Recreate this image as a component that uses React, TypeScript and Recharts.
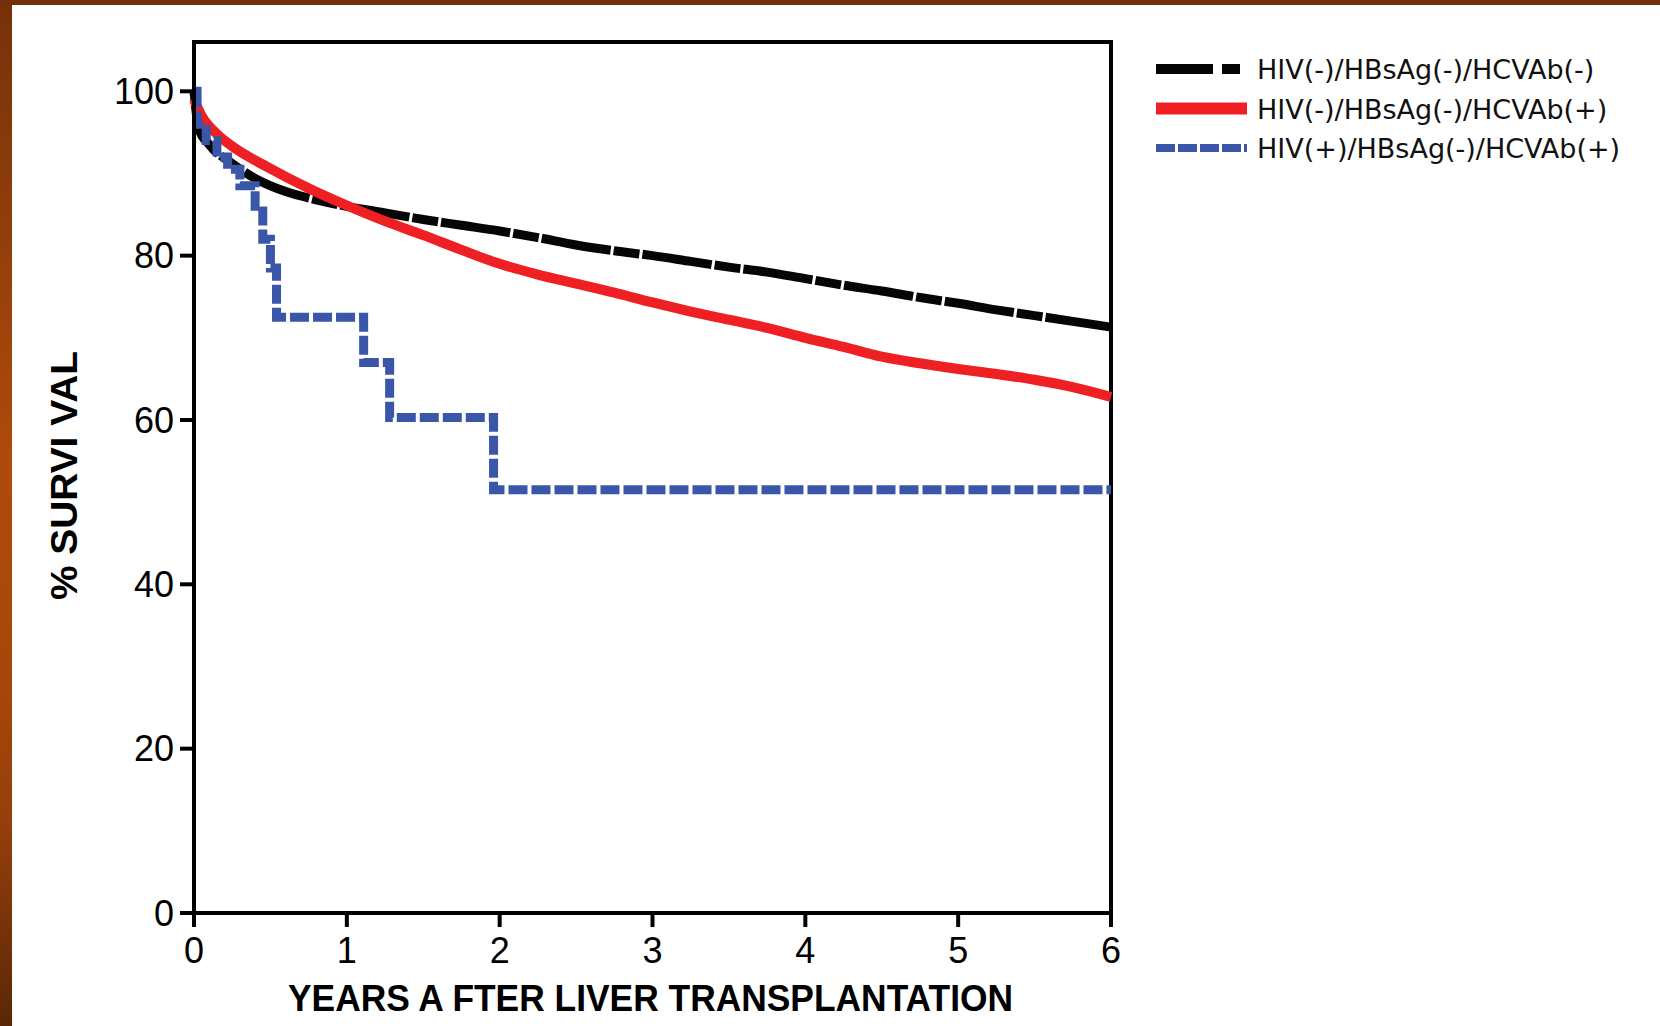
import { LineChart, Line, XAxis, YAxis, Legend, ReferenceArea } from "recharts";

// survival (%), x in years after transplant
const negYears = [0, 0.03, 0.1, 0.25, 0.4, 0.6, 0.8, 1, 1.25, 1.5, 1.75, 2, 2.25, 2.5, 2.75, 3, 3.25, 3.5, 3.75, 4, 4.25, 4.5, 4.75, 5, 5.25, 5.5, 5.75, 6];
const negSurvival = [100, 95.5, 93.5, 91.2, 89.4, 87.8, 86.8, 86.0, 85.2, 84.4, 83.7, 83.0, 82.2, 81.3, 80.6, 80.0, 79.3, 78.6, 78.0, 77.2, 76.4, 75.7, 74.9, 74.2, 73.4, 72.7, 72.0, 71.3];

const hcvYears = [0, 0.05, 0.15, 0.25, 0.5, 0.75, 1, 1.25, 1.5, 1.75, 2, 2.25, 2.5, 2.75, 3, 3.25, 3.5, 3.75, 4, 4.25, 4.5, 4.75, 5, 5.25, 5.5, 5.75, 6];
const hcvSurvival = [99, 97, 94.8, 93.3, 90.6, 88.2, 86.1, 84.2, 82.5, 80.7, 79.0, 77.7, 76.6, 75.5, 74.3, 73.2, 72.2, 71.2, 70.0, 68.9, 67.7, 66.9, 66.2, 65.6, 64.9, 64.0, 62.8];

// HIV+ group is a step (Kaplan-Meier) curve
const hivYears = [0, 0.02, 0.08, 0.15, 0.22, 0.3, 0.4, 0.45, 0.5, 0.54, 1.11, 1.28, 1.96, 6];
const hivSurvival = [100, 96, 94, 92, 90.5, 88.5, 86, 82, 78.5, 72.5, 67, 60.3, 51.5, 51.5];

const seriesNames = ["HIV(-)/HBsAg(-)/HCVAb(-)", "HIV(-)/HBsAg(-)/HCVAb(+)", "HIV(+)/HBsAg(-)/HCVAb(+)"];
const xTicks = [0, 1, 2, 3, 4, 5, 6];
const yTicks = [0, 20, 40, 60, 80, 100];

const toRows = (xs: number[], ys: number[]) => xs.map((x, i) => ({ x, y: ys[i] }));
const negData = toRows(negYears, negSurvival);
const hcvData = toRows(hcvYears, hcvSurvival);
const hivData = toRows(hivYears, hivSurvival);

const BLACK = "#050505";
const RED = "#ee2024";
const BLUE = "#3a56a8";

const legendStyles = [
  { color: BLACK, width: 10, dash: "57 9 18 40", len: 84 },
  { color: RED, width: 12, dash: undefined, len: 91 },
  { color: BLUE, width: 8, dash: "19 3", len: 91 },
];

function renderLegend() {
  return (
    <svg width={520} height={130}>
      {seriesNames.map((name, i) => {
        const cy = 24 + i * 39.5;
        const st = legendStyles[i];
        return (
          <g key={name}>
            <line x1={6} x2={6 + st.len} y1={cy} y2={cy} stroke={st.color} strokeWidth={st.width} strokeDasharray={st.dash} />
            <text x={107} y={cy + 10} fontFamily="DejaVu Sans, Verdana, sans-serif" fontSize={27} fill="#111">
              {name}
            </text>
          </g>
        );
      })}
    </svg>
  );
}

function XTitle(props: any) {
  const { x, y, width } = props.viewBox;
  return (
    <text x={x + width / 2 - 2} y={y + 98} textAnchor="middle" fontFamily="Liberation Sans, Arial, sans-serif" fontWeight={700} fontSize={37} textLength={725} lengthAdjust="spacingAndGlyphs" fill="#000">
      YEARS A FTER LIVER TRANSPLANTATION
    </text>
  );
}

function YTitle(props: any) {
  const { x, y, height } = props.viewBox;
  const cx = x - 17;
  const cy = y + height / 2 - 2;
  return (
    <text x={cx} y={cy} transform={`rotate(-90, ${cx}, ${cy})`} textAnchor="middle" fontFamily="Liberation Sans, Arial, sans-serif" fontWeight={700} fontSize={37} textLength={249} lengthAdjust="spacingAndGlyphs" fill="#000">
      % SURVI VAL
    </text>
  );
}

const tickStyle = { fill: "#000", fontSize: 36, fontFamily: "Liberation Sans, Arial, sans-serif" };
const axisStroke = { stroke: "#000", strokeWidth: 4 };

export default function App() {
  return (
    <div style={{ position: "fixed", left: 0, top: 0, width: 1660, height: 1026, background: "#fff", overflow: "hidden" }}>
      <div
        style={{
          position: "absolute",
          left: 0,
          top: 0,
          width: 12,
          height: 1026,
          background: "linear-gradient(to bottom, #76310a 0%, #8e3d0a 20%, #b04a0c 45%, #a8470b 65%, #963f0a 80%, #5a2707 100%)",
        }}
      />
      <div style={{ position: "absolute", left: 0, top: 0, width: 1660, height: 5, background: "#73300a" }} />
      <div style={{ position: "absolute", left: 0, top: 0 }}>
        <LineChart width={1660} height={1026} margin={{ top: 42, right: 549, bottom: 13, left: 94 }}>
          <XAxis
            type="number"
            dataKey="x"
            domain={[0, 6]}
            ticks={xTicks}
            height={100}
            tickSize={14}
            tickMargin={10}
            axisLine={axisStroke}
            tickLine={axisStroke}
            tick={tickStyle}
            label={XTitle}
          />
          <YAxis
            type="number"
            dataKey="y"
            domain={[0, 106]}
            ticks={yTicks}
            width={100}
            tickSize={14}
            tickMargin={6}
            axisLine={axisStroke}
            tickLine={axisStroke}
            tick={tickStyle}
            label={YTitle}
          />
          <ReferenceArea x1={0} x2={6} y1={0} y2={106} fill="none" stroke="#000" strokeWidth={4} />
          <Line data={negData} dataKey="y" name={seriesNames[0]} type="monotone" stroke={BLACK} strokeWidth={9} strokeDasharray="70 3 26 3" dot={false} isAnimationActive={false} />
          <Line data={hcvData} dataKey="y" name={seriesNames[1]} type="monotone" stroke={RED} strokeWidth={10} dot={false} isAnimationActive={false} />
          <Line data={hivData} dataKey="y" name={seriesNames[2]} type="stepAfter" stroke={BLUE} strokeWidth={9} strokeDasharray="19 4" dot={false} isAnimationActive={false} />
          <Legend
            layout="vertical"
            align="center"
            verticalAlign="middle"
            content={renderLegend}
            wrapperStyle={{ left: 1150, top: 45, width: 520 }}
          />
        </LineChart>
      </div>
    </div>
  );
}
